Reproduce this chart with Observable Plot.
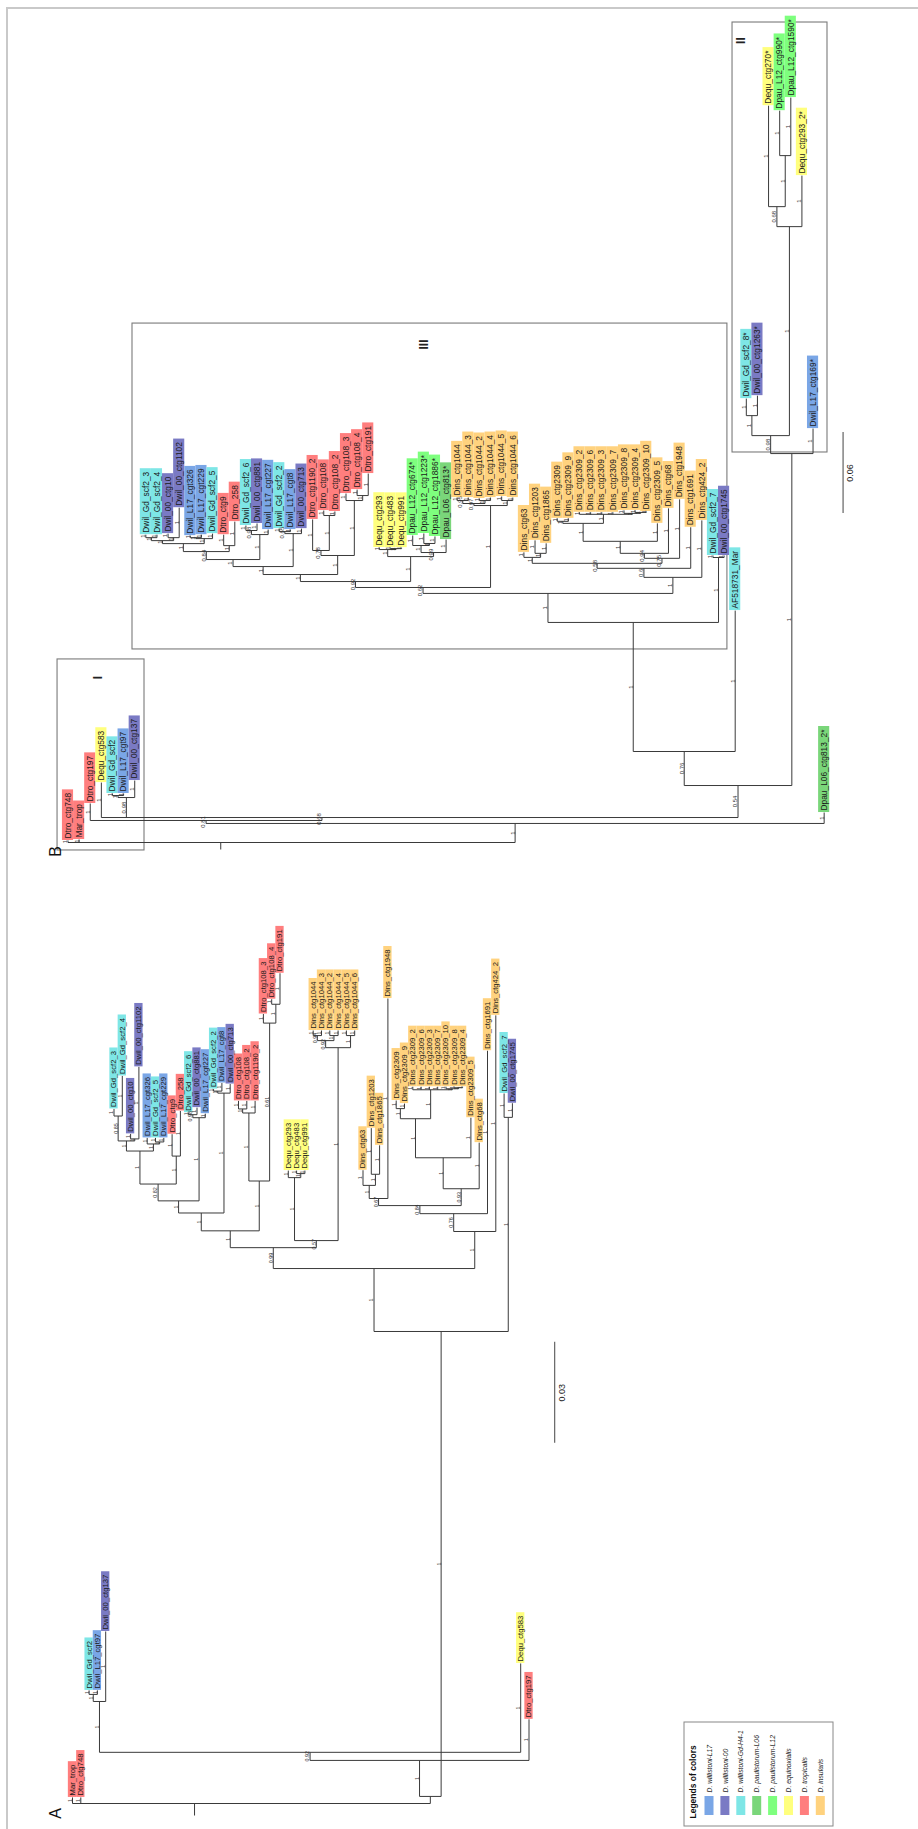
<!DOCTYPE html>
<html><head><meta charset="utf-8">
<script src="https://cdn.jsdelivr.net/npm/d3@7"></script>
<script src="https://cdn.jsdelivr.net/npm/@observablehq/plot@0.6"></script>
<style>
html,body{margin:0;padding:0;background:#fff;}
#wrap{position:relative;width:918px;height:1829px;overflow:hidden;}
#frame{position:absolute;left:6px;top:7px;right:-4px;bottom:-4px;border-left:2px solid #c9c9c9;border-top:2px solid #c9c9c9;pointer-events:none;}
</style></head><body><div id="wrap"><div id="chart"></div><div id="frame"></div></div>
<script>
// ---------------- DATA ----------------
const speciesNames = ["D. willistoni-L17","D. willistoni-00","D. willistoni-Gd-H4-1","D. paulistorum-L06","D. paulistorum-L12","D. equinoxialis","D. tropicalis","D. insularis"];
const speciesColors = ["#7aa6e6","#7a7ac4","#7ee6e6","#7ad67a","#7eff7e","#ffff7e","#ff7e7e","#ffd27e"];
const tipPrefixes = ["Dwil_L17","Dwil_00","Dwil_Gd","Dpau_L06","Dpau_L12","Dequ","Dtro","Dins","Mar_trop","AF518731_Mar"];
const prefixSpecies = [0,1,2,3,4,5,6,7,6,2];

// Tree A (scale bar 0.03)
const nwA_S1 = "(((Dwil_Gd_scf2_3:0.0021,Dwil_Gd_scf2_4:0.0119)0.85:0.0074,(Dwil_00_ctg10:0.0015,Dwil_00_ctg1102:0.0214)1:0.0006)1:0.0030,(Dwil_L17_cgt326:0.0018,(Dwil_Gd_scf2_5:0.0012,Dwil_L17_cgt229:0.0012)1:0.0006)1:0.0021)1:0.0098";
const nwA_M1 = `(${nwA_S1},(Dtro_ctg9:0.0065,Dtro_258:0.0134)1:0.0083)0.82:0.0050`;
const nwA_G14 = "((Dwil_Gd_scf2_6:0.0006,Dwil_00_ctg881:0.0021)0.98:0.0009,Dwil_L17_cgt227:0.0012)1:0.0247";
const nwA_G17 = "((Dwil_Gd_scf2_2:0.0006,Dwil_L17_cgt8:0.0024)1:0.0006,Dwil_00_ctg713:0.0027)1:0.0356";
const nwA_Q1a = `((${nwA_M1},${nwA_G14})1:0.0036,${nwA_G17})1:0.0053`;
const nwA_Q1b = "(((Dtro_ctg108:0.0024,Dtro_ctg108_2:0.0024)1:0.0012,Dtro_ctg1190_2:0.0036)1:0.0202,(Dtro_ctg108_3:0.0027,(Dtro_ctg108_4:0.0015,Dtro_ctg191:0.0092)1:0.0056)0.61:0.0469)1:0.0148";
const nwA_Q2 = "((Dequ_ctg293:0.0021,(Dequ_ctg483:0.0009,Dequ_ctg991:0.0009)1:0.0012)1:0.0187,(((Dins_ctg1044:0.0015,Dins_ctg1044_3:0.0015)0.94:0.0015,(Dins_ctg1044_2:0.0015,Dins_ctg1044_4:0.0015)1:0.0015)0.92:0.0021,(Dins_ctg1044_5:0.0015,Dins_ctg1044_6:0.0015)1:0.0036)1:0.0573)0.57:0.0021";
const nwA_Q = `((${nwA_Q1a},${nwA_Q1b})1:0.0050,${nwA_Q2})0.99:0.0062`;
const nwA_D8 = "((Dins_ctg2309:0.0024,Dins_ctg2309_9:0.0015)1:0.0030,(Dins_ctg2309_2:0.0009,Dins_ctg2309_6:0.0009,Dins_ctg2309_3:0.0009,Dins_ctg2309_7:0.0009,(Dins_ctg2309_10:0.0006,(Dins_ctg2309_8:0.0003,Dins_ctg2309_4:0.0003)1:0.0003)1:0.0003)1:0.0086)1:0.0116";
const nwA_D5 = "((Dins_ctg63:0.0045,(Dins_ctg1203:0.0137,Dins_ctg1865:0.0086)1:0.0033)1:0.0039,Dins_ctg1948:0.0594)0.67:0.0021";
const nwA_D4 = `((${nwA_D8},Dins_ctg2309_5:0.0119)1:0.0092,Dins_ctg68:0.0137)0.93:0.0050`;
const nwA_D1 = `(((${nwA_D5},${nwA_D4})0.84:0.0024,Dins_ctg1691:0.0484)0.76:0.0053,Dins_ctg424_2:0.0642)1:0.0110`;
const nwA_Big = `((${nwA_Q},${nwA_D1})1:0.0187,(Dwil_Gd_scf2_7:0.0071,Dwil_00_ctg1745:0.0042)1:0.0636)1:0.1381`;
const nwA_Y = "((((Dwil_Gd_scf2:0.0012,Dwil_L17_cgt97:0.0012)1:0.0021,Dwil_00_ctg137:0.0208)1:0.0151,Dequ_ctg583:0.0264)0.92:0.0024,Dtro_ctg197:0.0122)1:0.0107";
const newickA = `(Mar_trop:0.0018,Dtro_ctg748:0.0018,(${nwA_Y},${nwA_Big}):0.0021);`;
const tipOrderA = ["Mar_trop","Dtro_ctg748","Dwil_Gd_scf2","Dwil_L17_cgt97","Dwil_00_ctg137","Dwil_Gd_scf2_3","Dwil_Gd_scf2_4","Dwil_00_ctg10","Dwil_00_ctg1102","Dwil_L17_cgt326","Dwil_Gd_scf2_5","Dwil_L17_cgt229","Dtro_ctg9","Dtro_258","Dwil_Gd_scf2_6","Dwil_00_ctg881","Dwil_L17_cgt227","Dwil_Gd_scf2_2","Dwil_L17_cgt8","Dwil_00_ctg713","Dtro_ctg108","Dtro_ctg108_2","Dtro_ctg1190_2","Dtro_ctg108_3","Dtro_ctg108_4","Dtro_ctg191","Dequ_ctg293","Dequ_ctg483","Dequ_ctg991","Dins_ctg1044","Dins_ctg1044_3","Dins_ctg1044_2","Dins_ctg1044_4","Dins_ctg1044_5","Dins_ctg1044_6","Dins_ctg63","Dins_ctg1203","Dins_ctg1865","Dins_ctg1948","Dins_ctg2309","Dins_ctg2309_9","Dins_ctg2309_2","Dins_ctg2309_6","Dins_ctg2309_3","Dins_ctg2309_7","Dins_ctg2309_10","Dins_ctg2309_8","Dins_ctg2309_4","Dins_ctg2309_5","Dins_ctg68","Dins_ctg1691","Dins_ctg424_2","Dwil_Gd_scf2_7","Dwil_00_ctg1745","Dequ_ctg583","Dtro_ctg197"];

// Tree B (scale bar 0.06)
const nwB_S1 = "(((Dwil_Gd_scf2_3:0.0022,Dwil_Gd_scf2_4:0.0022)1:0.0022,(Dwil_00_ctg10:0.0030,Dwil_00_ctg1102:0.0222)1:0.0022)1:0.0022,((Dwil_L17_cgt326:0.0015,Dwil_L17_cgt229:0.0022)1:0.0007,Dwil_Gd_scf2_5:0.0037)1:0.0037)1:0.0059";
const nwB_M1 = `(${nwB_S1},(Dtro_ctg9:0.0081,Dtro_258:0.0178)1:0.0044)0.84:0.0059`;
const nwB_G16 = "((Dwil_Gd_scf2_6:0.0037,Dwil_00_ctg881:0.0052)0.98:0.0030,Dwil_L17_cgt227:0.0037)1:0.0185";
const nwB_G19 = "((Dwil_Gd_scf2_2:0.0022,Dwil_L17_cgt8:0.0015)0.65:0.0015,Dwil_00_ctg713:0.0037)1:0.0244";
const nwB_Dtro = "((Dtro_ctg1190_2:0.0230,(Dtro_ctg108:0.0037,Dtro_ctg108_2:0.0030)1:0.0259)0.78:0.0037,(Dtro_ctg108_3:0.0052,(Dtro_ctg108_4:0.0044,Dtro_ctg191:0.0163)1:0.0037)1:0.0407)1:0.0141";
const nwB_EqPau = "((Dequ_ctg293:0.0015,(Dequ_ctg483:0.0007,Dequ_ctg991:0.0007)1:0.0007)1:0.0052,((Dpau_L12_ctg674*:0.0074,(Dpau_L12_ctg1223*:0.0074,Dpau_L12_ctg1886*:0.0052)1:0.0015)1:0.0052,Dpau_L06_ctg813*:0.0096)0.99:0.0030)1:0.0185";
const nwB_G1044 = "(((Dins_ctg1044:0.0022,Dins_ctg1044_3:0.0022)0.95:0.0022,(Dins_ctg1044_2:0.0015,Dins_ctg1044_4:0.0022)1:0.0022)0.97:0.0015,(Dins_ctg1044_5:0.0030,Dins_ctg1044_6:0.0022)1:0.0037)1:0.0607";
const nwB_N359 = `((((${nwB_M1},${nwB_G16})1:0.0052,${nwB_G19})1:0.0059,${nwB_Dtro})1:0.0052,${nwB_EqPau})0.92:0.0044`;
const nwB_Na = "((Dins_ctg2309:0.0022,Dins_ctg2309_9:0.0022)1:0.0015,(Dins_ctg2309_2:0.0015,Dins_ctg2309_6:0.0015,Dins_ctg2309_3:0.0015,Dins_ctg2309_7:0.0015,(Dins_ctg2309_8:0.0022,(Dins_ctg2309_4:0.0015,Dins_ctg2309_10:0.0007)1:0.0007)1:0.0007)1:0.0067)1:0.0133";
const nwB_Ng = `((((Dins_ctg63:0.0037,(Dins_ctg1203:0.0096,Dins_ctg1865:0.0074)1:0.0030)1:0.0044,(((${nwB_Na},Dins_ctg2309_5:0.0133)1:0.0089,Dins_ctg68:0.0333)0.94:0.0037,Dins_ctg1948:0.0437)0.75:0.0037)0.58:0.0037,Dins_ctg1691:0.0304)0.6:0.0067,Dins_ctg424_2:0.0422)1:0.0119`;
const nwB_III = `(((${nwB_N359},${nwB_G1044})0.62:0.0044,${nwB_Ng})1:0.0215,(Dwil_Gd_scf2_7:0.0015,Dwil_00_ctg1745:0.0015)1:0.0481)1:0.0956`;
const nwB_II = "(((Dwil_Gd_scf2_8*:0.0126,Dwil_00_ctg1263*:0.0148)1:0.0148,((Dequ_ctg270*:0.0748,(Dpau_L12_ctg990*:0.0333,Dpau_L12_ctg1590*:0.0430)1:0.0378)0.68:0.0148,Dequ_ctg293_2*:0.0378)1:0.1548)0.98:0.0133,Dwil_L17_ctg169*:0.0185)1:0.2459";
const newickB = `(Dtro_ctg748:0.0015,Mar_trop:0.0022,((Dtro_ctg197:0.0126,(Dequ_ctg583:0.0259,((Dwil_Gd_scf2:0.0015,Dwil_L17_cgt97:0.0015)1:0.0015,Dwil_00_ctg137:0.0126)0.98:0.0148,((${nwB_III},AF518731_Mar:0.1044)0.76:0.0252,${nwB_II})0.54:0.0237)0.68:0.0022)0.81:0.0022,Dpau_L06_ctg813_2*:0.0081)1:0.0141);`;
const tipOrderB = ["Dtro_ctg748","Mar_trop","Dtro_ctg197","Dequ_ctg583","Dwil_Gd_scf2","Dwil_L17_cgt97","Dwil_00_ctg137","Dwil_Gd_scf2_3","Dwil_Gd_scf2_4","Dwil_00_ctg10","Dwil_00_ctg1102","Dwil_L17_cgt326","Dwil_L17_cgt229","Dwil_Gd_scf2_5","Dtro_ctg9","Dtro_258","Dwil_Gd_scf2_6","Dwil_00_ctg881","Dwil_L17_cgt227","Dwil_Gd_scf2_2","Dwil_L17_cgt8","Dwil_00_ctg713","Dtro_ctg1190_2","Dtro_ctg108","Dtro_ctg108_2","Dtro_ctg108_3","Dtro_ctg108_4","Dtro_ctg191","Dequ_ctg293","Dequ_ctg483","Dequ_ctg991","Dpau_L12_ctg674*","Dpau_L12_ctg1223*","Dpau_L12_ctg1886*","Dpau_L06_ctg813*","Dins_ctg1044","Dins_ctg1044_3","Dins_ctg1044_2","Dins_ctg1044_4","Dins_ctg1044_5","Dins_ctg1044_6","Dins_ctg63","Dins_ctg1203","Dins_ctg1865","Dins_ctg2309","Dins_ctg2309_9","Dins_ctg2309_2","Dins_ctg2309_6","Dins_ctg2309_3","Dins_ctg2309_7","Dins_ctg2309_8","Dins_ctg2309_4","Dins_ctg2309_10","Dins_ctg2309_5","Dins_ctg68","Dins_ctg1948","Dins_ctg1691","Dins_ctg424_2","Dwil_Gd_scf2_7","Dwil_00_ctg1745","AF518731_Mar","Dwil_Gd_scf2_8*","Dwil_00_ctg1263*","Dequ_ctg270*","Dpau_L12_ctg990*","Dpau_L12_ctg1590*","Dequ_ctg293_2*","Dwil_L17_ctg169*","Dpau_L06_ctg813_2*"];

// Clade boxes of tree B, in leaf-slot / depth units
const cladeBoxNames = ["I","II","III"];
const cladeBoxSlots = [[-0.94, 6.88],[59.76, 68.3],[5.8, 59.3]];
const cladeBoxDepths = [[-0.0059, 0.1356],[0.2889, 0.6074],[0.143, 0.3844]];
const cladeLabelPos = [[2.74, 0.1222],[60.5, 0.594],[32.06, 0.3689]];
const scaleBarValues = [0.03, 0.06];

// ---------------- LAYOUT ----------------
const FONT = '"Liberation Sans", Arial, sans-serif';
const cfgA = {x0: 72, dx: 8.3, rootY: 1803, ppu: 101/0.03, font: 7.7, sup: 5.4, stub: 12, bar: {slot: 58.1, depth: 0.107}};
const cfgB = {x0: 67.5, dx: 11.12, rootY: 842, ppu: 81/0.06, font: 8.4, sup: 6, stub: 7, bar: {slot: 69.7, depth: 0.2437}};

function parseNewick(str) {
  str = str.replace(/\s+/g, "");
  let i = 0;
  function node() {
    const n = {children: []};
    if (str[i] === "(") {
      i++;
      n.children.push(node());
      while (str[i] === ",") { i++; n.children.push(node()); }
      i++;
    }
    let lab = "";
    while (i < str.length && !":,);".includes(str[i])) lab += str[i++];
    if (n.children.length) n.support = lab; else n.name = lab;
    if (str[i] === ":") { i++; let num = ""; while (i < str.length && !",);".includes(str[i])) num += str[i++]; n.length = +num; }
    return n;
  }
  return node();
}

const ctx = document.createElement("canvas").getContext("2d");
function textW(s, size, style = "") { ctx.font = `${style} ${size}px ${FONT}`; return ctx.measureText(s).width; }
function speciesOf(name) {
  let best = -1, bl = -1;
  tipPrefixes.forEach((p, k) => { if (name.startsWith(p) && p.length > bl) { best = k; bl = p.length; } });
  return prefixSpecies[best];
}

function layout(newick, order, cfg) {
  const root = parseNewick(newick);
  const idx = new Map(order.map((n, k) => [n, k]));
  const nodes = [];
  (function walk(n, parent) {
    n.parent = parent;
    n.depth = parent ? parent.depth + (n.length || 0) : 0;
    nodes.push(n);
    n.children.forEach(c => walk(c, n));
  })(root, null);
  (function setX(n) {
    if (!n.children.length) {
      if (!idx.has(n.name)) throw new Error("missing tip " + n.name);
      n.slot = idx.get(n.name);
      n.x = cfg.x0 + cfg.dx * n.slot;
    } else { n.children.forEach(setX); n.x = d3.mean(n.children, c => c.x); }
  })(root);
  nodes.forEach(n => n.y = cfg.rootY - n.depth * cfg.ppu);
  const segs = [], sups = [], tips = [];
  for (const n of nodes) {
    if (n.parent) {
      segs.push({x1: n.x, y1: n.parent.y, x2: n.x, y2: n.y});
      const s = n.children.length ? n.support : "1";
      if (s) sups.push({x: n.x - 0.6, y: (n.parent.y + n.y) / 2, text: s});
    } else {
      segs.push({x1: n.x, y1: n.y, x2: n.x, y2: n.y + cfg.stub});
    }
    if (n.children.length) {
      const xs = n.children.map(c => c.x);
      segs.push({x1: d3.min(xs), y1: n.y, x2: d3.max(xs), y2: n.y});
    } else {
      const len = textW(n.name, cfg.font) + 5;
      tips.push({name: n.name, x: n.x, y: n.y, x1: n.x - cfg.dx / 2, x2: n.x + cfg.dx / 2, y1: n.y - len, y2: n.y, color: speciesColors[speciesOf(n.name)]});
    }
  }
  return {segs, sups, tips, root};
}

const A = layout(newickA, tipOrderA, cfgA);
const B = layout(newickB, tipOrderB, cfgB);
const px = (cfg, slot, depth) => [cfg.x0 + cfg.dx * slot, cfg.rootY - depth * cfg.ppu];

const boxes = cladeBoxNames.map((nm, k) => {
  const [xa, ya] = px(cfgB, cladeBoxSlots[k][0], cladeBoxDepths[k][0]);
  const [xb, yb] = px(cfgB, cladeBoxSlots[k][1], cladeBoxDepths[k][1]);
  const [lx, ly] = px(cfgB, cladeLabelPos[k][0], cladeLabelPos[k][1]);
  return {name: nm, x1: xa, x2: xb, y1: yb, y2: ya, lx, ly};
});

const bars = [cfgA, cfgB].map((cfg, k) => {
  const [x, y] = px(cfg, cfg.bar.slot, cfg.bar.depth);
  const v = scaleBarValues[k];
  return {x, y1: y, y2: y - v * cfg.ppu, label: String(v), ly: y - v * cfg.ppu / 2};
});

// legend (rotated, bottom right)
const LG = {x1: 684, x2: 833, y1: 1722, y2: 1826, col0: 709, step: 15.9};
const legendItems = speciesNames.map((s, k) => ({name: s, color: speciesColors[k], x: LG.col0 + LG.step * k}));

const panelLetters = [{t: "A", x: 55, y: 1813}, {t: "B", x: 55, y: 851}];

const tipText = (T, cfg) => Plot.text(T.tips, {x: "x", y: d => d.y - 2, text: "name", rotate: -90, textAnchor: "start", lineAnchor: "middle", fontSize: cfg.font, fontFamily: FONT, fill: "#1a1a1a"});
const supText = (T, cfg) => Plot.text(T.sups, {x: "x", y: "y", text: "text", rotate: -90, textAnchor: "middle", lineAnchor: "bottom", fontSize: cfg.sup, fontFamily: FONT, fill: "#333"});

const chart = Plot.plot({
  width: 918, height: 1829, margin: 0,
  x: {domain: [0, 918], range: [0, 918], axis: null},
  y: {domain: [0, 1829], range: [0, 1829], axis: null},
  style: {background: "white"},
  marks: [
    Plot.rect(boxes, {x1: "x1", x2: "x2", y1: "y1", y2: "y2", fill: "none", stroke: "#7a7a7a", strokeWidth: 1.1}),
    Plot.text(boxes, {x: "lx", y: "ly", text: "name", rotate: -90, fontSize: 12, fontWeight: "bold", fontFamily: FONT, fill: "#222"}),
    Plot.link(A.segs, {x1: "x1", y1: "y1", x2: "x2", y2: "y2", stroke: "#3a3a3a", strokeWidth: 1}),
    Plot.link(B.segs, {x1: "x1", y1: "y1", x2: "x2", y2: "y2", stroke: "#3a3a3a", strokeWidth: 1}),
    Plot.rect(A.tips, {x1: "x1", x2: "x2", y1: "y1", y2: "y2", fill: "color"}),
    Plot.rect(B.tips, {x1: "x1", x2: "x2", y1: "y1", y2: "y2", fill: "color"}),
    tipText(A, cfgA), tipText(B, cfgB),
    supText(A, cfgA), supText(B, cfgB),
    Plot.ruleX(bars, {x: "x", y1: "y1", y2: "y2", stroke: "#444", strokeWidth: 1}),
    Plot.text(bars, {x: d => d.x + 4, y: "ly", text: "label", rotate: -90, lineAnchor: "top", fontSize: 9, fontFamily: FONT, fill: "#222"}),
    Plot.rect([LG], {x1: "x1", x2: "x2", y1: "y1", y2: "y2", fill: "none", stroke: "#888", strokeWidth: 1}),
    Plot.text([LG], {x: d => d.x1 + 9, y: d => d.y2 - 8, text: () => "Legends of colors", rotate: -90, textAnchor: "start", lineAnchor: "middle", fontSize: 8.5, fontWeight: "bold", fontFamily: FONT, fill: "#111"}),
    Plot.rect(legendItems, {x1: d => d.x - 4.5, x2: d => d.x + 4.5, y1: LG.y2 - 30, y2: LG.y2 - 11, fill: "color"}),
    Plot.text(legendItems, {x: "x", y: LG.y2 - 34, text: "name", rotate: -90, textAnchor: "start", lineAnchor: "middle", fontSize: 6.8, fontStyle: "italic", fontFamily: FONT, fill: "#222"}),
    Plot.text(panelLetters, {x: "x", y: "y", text: "t", rotate: -90, fontSize: 16, fontFamily: FONT, fill: "#111"})
  ]
});
document.getElementById("chart").appendChild(chart);
</script></body></html>
